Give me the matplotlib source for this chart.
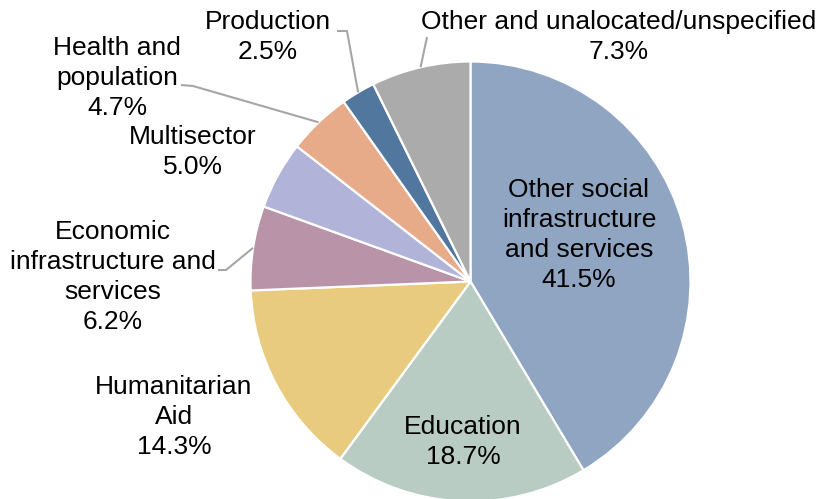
import numpy as np
import matplotlib
matplotlib.use("Agg")
import matplotlib.pyplot as plt

plt.rcParams['font.family'] = ['Liberation Sans', 'DejaVu Sans']

# Sector shares, clockwise from 12 o'clock
sectors = ['Other social\ninfrastructure\nand services', 'Education', 'Humanitarian\nAid',
           'Economic\ninfrastructure and\nservices', 'Multisector', 'Health and\npopulation',
           'Production', 'Other and unalocated/unspecified']
shares = [41.5, 18.7, 14.3, 6.2, 5.0, 4.7, 2.5, 7.3]
colors = ['#8FA5C1', '#B8CCC3', '#E8CB7E', '#B994A8', '#B1B3D9', '#E8AB89', '#52779F', '#ABABAB']

W, H = 837, 499
CX, CY, R = 470.5, 281.5, 220.0


def px(x, y):
    # screen-style (top-left origin) to axes coords
    return x, H - y


# label centres and optional leader path (label end, elbow)
label_pos = [(579, 235), (463, 442), (174, 417), (113, 277), (193, 152), (117, 78), (268, 37), (619, 37)]
leaders = {3: [(218, 270), (226, 270)],
           5: [(181, 85), (193, 86)],
           6: [(337, 31), (347, 31)],
           7: [(427, 37)]}

fig = plt.figure(figsize=(W / 100, H / 100), dpi=100)
ax = fig.add_axes([0, 0, 1, 1])

wedges, _ = ax.pie(shares, colors=colors, startangle=90, counterclock=False,
                   radius=R, center=px(CX, CY),
                   wedgeprops=dict(edgecolor='white', linewidth=1.6))

total = sum(shares)
cum = np.cumsum([0] + shares)
for i, (name, val) in enumerate(zip(sectors, shares)):
    lx, ly = label_pos[i]
    ax.text(*px(lx, ly), f'{name}\n{val:.1f}%', ha='center', va='center',
            fontsize=19, color='black', linespacing=1.3)
    if i in leaders:
        mid = (cum[i] + val / 2) / total * 2 * np.pi
        rim = (CX + R * np.sin(mid), CY - R * np.cos(mid))
        pts = leaders[i] + [rim]
        xs, ys = zip(*[px(x, y) for x, y in pts])
        ax.plot(xs, ys, color='#A6A6A6', lw=1.5, solid_capstyle='butt')

ax.set_xlim(0, W)
ax.set_ylim(0, H)
ax.axis('off')
fig.savefig('out.png', dpi=100)
